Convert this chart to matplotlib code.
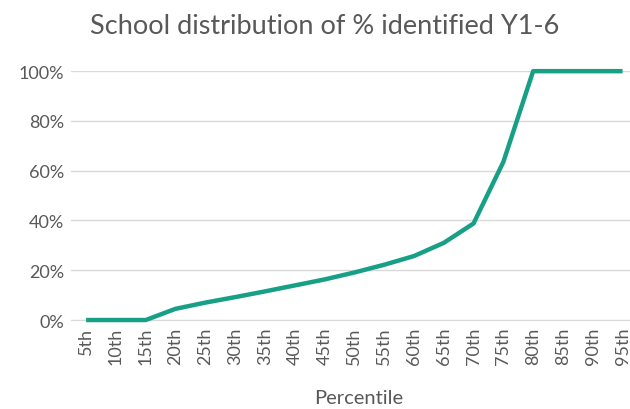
import matplotlib.pyplot as plt
from matplotlib.ticker import PercentFormatter

percentiles = ["5th", "10th", "15th", "20th", "25th", "30th", "35th", "40th", "45th", "50th",
               "55th", "60th", "65th", "70th", "75th", "80th", "85th", "90th", "95th"]
pct_identified = [0, 0, 0, 4.5, 7.0, 9.2, 11.5, 13.9, 16.3, 19.1,
                  22.2, 25.7, 31.0, 38.8, 63.5, 100, 100, 100, 100]

plt.rcParams["font.family"] = ["Lato", "DejaVu Sans"]

fig = plt.figure(figsize=(6.3, 4.1), dpi=100)
ax = fig.add_axes([0.113, 0.217, 0.887, 0.607])

x = range(len(percentiles))
ax.plot(x, pct_identified, color="#17a085", linewidth=3.2, clip_on=False,
        solid_capstyle="butt", zorder=3)

ax.set_xlim(-0.5, 18.25)
ax.set_ylim(0, 100)
ax.set_yticks(range(0, 101, 20))
ax.yaxis.set_major_formatter(PercentFormatter(decimals=0))
ax.set_xticks(list(x))
ax.set_xticklabels(percentiles, rotation=90)
ax.tick_params(length=0, labelsize=13, colors="#595959", pad=5)
ax.grid(axis="y", color="#d9d9d9", linewidth=1)
ax.set_axisbelow(True)
for side in ["top", "right", "left"]:
    ax.spines[side].set_visible(False)
ax.spines["bottom"].set_color("#d9d9d9")

fig.text(0.57, 0.028, "Percentile", ha="center", va="center",
         fontsize=14.5, color="#595959")
fig.text(0.515, 0.935, "School distribution of % identified Y1-6", ha="center",
         va="center", fontsize=19.5, color="#595959")

fig.savefig("out.png", dpi=100)
